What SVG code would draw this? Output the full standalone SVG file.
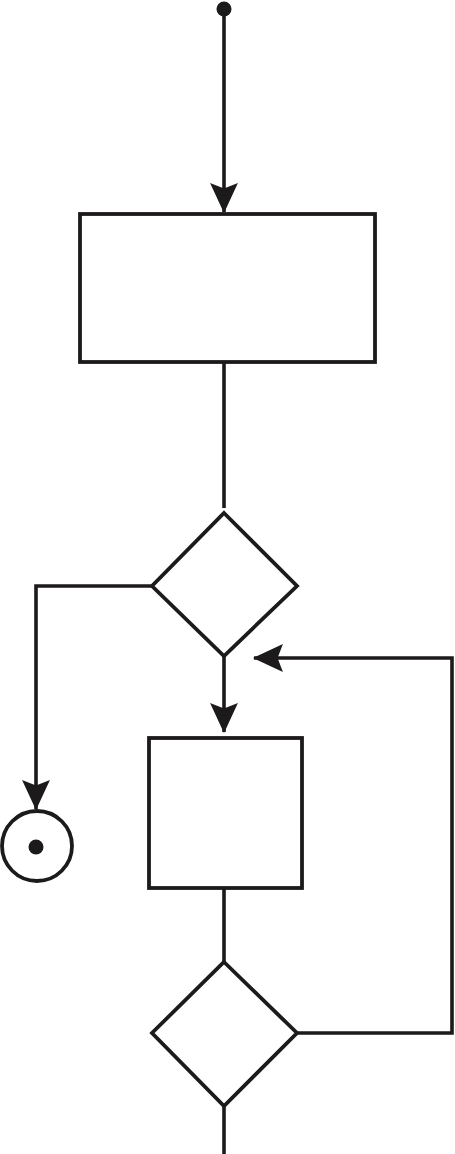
<svg xmlns="http://www.w3.org/2000/svg" width="455" height="1154" viewBox="0 0 455 1154">
<style>
.s{fill:none;stroke:#1c1a1b;stroke-width:3.6;stroke-linejoin:miter}
.n{fill:#fff;stroke:#1c1a1b;stroke-width:3.8}
.f{fill:#1c1a1b}
</style>
<defs>
<marker id="ah" markerUnits="userSpaceOnUse" markerWidth="30" markerHeight="28" viewBox="0 0 28 26" refX="27" refY="13" orient="auto">
<path d="M0,0 L28,13 L0,26 L5,13 Z" fill="#1c1a1b"/>
</marker>
</defs>
<rect width="455" height="1154" fill="#fff"/>
<g id="connectors">
<path class="s" d="M224,9 L224,212" marker-end="url(#ah)"/>
<path class="s" d="M224,363 L224,508"/>
<path class="s" d="M152,586 L36,586 L36,809" marker-end="url(#ah)"/>
<path class="s" d="M224,656 L224,732" marker-end="url(#ah)"/>
<path class="s" d="M224,889 L224,962"/>
<path class="s" d="M298,1033 L452,1033 L452,658 L254,658" marker-end="url(#ah)"/>
<path class="s" d="M224,1107 L224,1154"/>
</g>
<g id="start"><circle class="f" cx="224" cy="9" r="7.5"/></g>
<g id="action1"><rect class="n" x="80" y="214" width="295" height="148"/></g>
<g id="decision1"><polygon class="n" points="224,513 297,586 224,656 152,586"/></g>
<g id="end"><circle class="n" cx="37" cy="846" r="35"/><circle class="f" cx="36" cy="847" r="7.5"/></g>
<g id="action2"><rect class="n" x="149" y="738" width="153" height="150"/></g>
<g id="decision2"><polygon class="n" points="224,962 297,1033 224,1106 152,1033"/></g>
</svg>
